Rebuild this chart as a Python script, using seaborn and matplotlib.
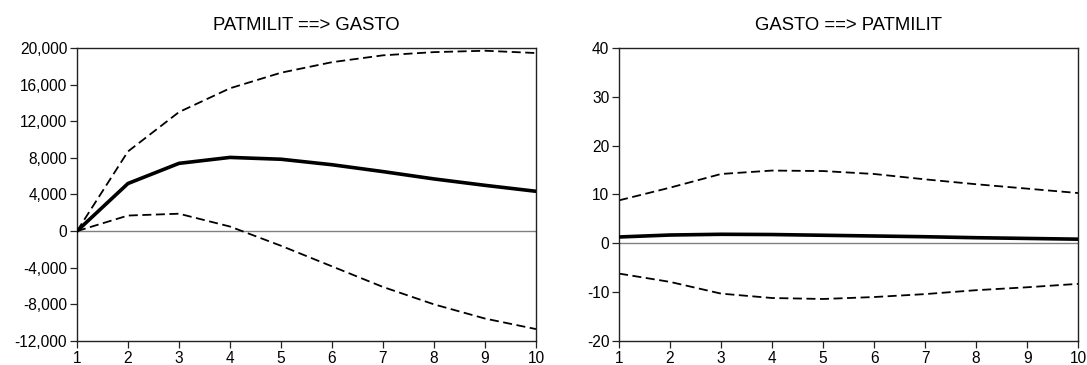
import numpy as np
import pandas as pd
import matplotlib
matplotlib.use("Agg")
import matplotlib.pyplot as plt
import seaborn as sns

# Impulse responses with confidence bands, periods 1..10
periods = list(range(1, 11))

patmilit_to_gasto = [0, 5200, 7400, 8050, 7850, 7250, 6500, 5700, 5000, 4350]
patmilit_to_gasto_upper = [0, 8700, 13000, 15600, 17300, 18450, 19200, 19550, 19700, 19450]
patmilit_to_gasto_lower = [0, 1700, 1900, 500, -1600, -3850, -6100, -8000, -9550, -10700]

gasto_to_patmilit = [1.3, 1.7, 1.85, 1.8, 1.65, 1.5, 1.35, 1.15, 1.0, 0.85]
gasto_to_patmilit_upper = [8.8, 11.4, 14.2, 14.9, 14.8, 14.2, 13.1, 12.1, 11.2, 10.3]
gasto_to_patmilit_lower = [-6.2, -7.9, -10.3, -11.2, -11.4, -11.0, -10.4, -9.6, -9.0, -8.3]

titles = ["PATMILIT ==> GASTO", "GASTO ==> PATMILIT"]
left_yticks = [-12000, -8000, -4000, 0, 4000, 8000, 12000, 16000, 20000]
right_yticks = [-20, -10, 0, 10, 20, 30, 40]

sns.set_theme(style="white")
plt.rcParams["font.family"] = ["Liberation Sans", "DejaVu Sans"]

fig = plt.figure(figsize=(10.87, 3.65), dpi=100)
ax1 = fig.add_axes([0.0708, 0.0658, 0.4223, 0.8027])
ax2 = fig.add_axes([0.5695, 0.0658, 0.4223, 0.8027])

panels = [
    (ax1, patmilit_to_gasto, patmilit_to_gasto_upper, patmilit_to_gasto_lower, left_yticks,
     lambda v: f"{v:,.0f}"),
    (ax2, gasto_to_patmilit, gasto_to_patmilit_upper, gasto_to_patmilit_lower, right_yticks,
     lambda v: f"{v:.0f}"),
]

for (ax, mid, up, lo, yt, fmt), title in zip(panels, titles):
    df = pd.DataFrame({"period": periods, "mid": mid, "upper": up, "lower": lo})
    ax.axhline(0, color="#808080", lw=1.0, zorder=1)
    sns.lineplot(data=df, x="period", y="upper", ax=ax, color="black", lw=1.3,
                 linestyle=(0, (5, 2.5)), zorder=2)
    sns.lineplot(data=df, x="period", y="lower", ax=ax, color="black", lw=1.3,
                 linestyle=(0, (5, 2.5)), zorder=2)
    sns.lineplot(data=df, x="period", y="mid", ax=ax, color="black", lw=2.6, zorder=3)

    ax.set_xlim(1, 10)
    ax.set_ylim(yt[0], yt[-1])
    ax.set_xticks(periods)
    ax.set_yticks(yt)
    ax.set_yticklabels([fmt(v) for v in yt])
    ax.set_xlabel("")
    ax.set_ylabel("")
    ax.set_title(title, fontsize=13.3, pad=13, color="black")
    for s in ax.spines.values():
        s.set_color("#222222")
        s.set_linewidth(1.0)
    ax.tick_params(axis="both", which="both", direction="out", length=5, width=0.9,
                   color="#222222", labelsize=11.2, labelcolor="black", pad=2,
                   bottom=True, left=True, top=False, right=False)

fig.savefig("out.png", dpi=100)
